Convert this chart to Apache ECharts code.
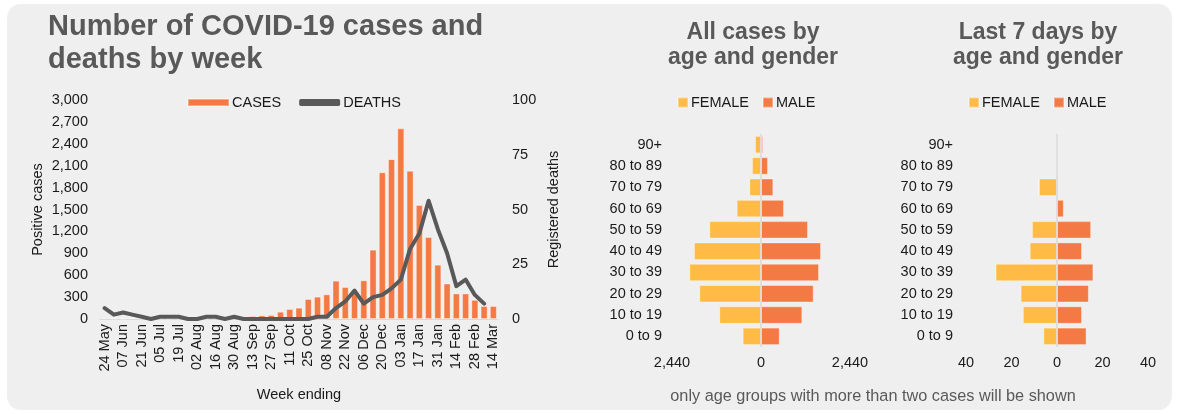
<!DOCTYPE html>
<html>
<head>
<meta charset="utf-8">
<title>COVID-19 cases and deaths</title>
<script src="https://cdn.jsdelivr.net/npm/echarts@6/dist/echarts.min.js"></script>
<style>
  html, body { margin: 0; padding: 0; background: #fff; }
  #panel { position: absolute; left: 7px; top: 4px; width: 1165px; height: 406px; background: #efefef; border-radius: 14px; }
  #main { position: absolute; left: 0; top: 0; width: 1179px; height: 414px; }
</style>
</head>
<body>
<div id="panel"></div>
<div id="main"></div>
<script>
// week ending labels
var weeks = ['24 May', '31 May', '07 Jun', '14 Jun', '21 Jun', '28 Jun', '05 Jul', '12 Jul', '19 Jul', '26 Jul',
  '02 Aug', '09 Aug', '16 Aug', '23 Aug', '30 Aug', '06 Sep', '13 Sep', '20 Sep', '27 Sep', '04 Oct',
  '11 Oct', '18 Oct', '25 Oct', '01 Nov', '08 Nov', '15 Nov', '22 Nov', '29 Nov', '06 Dec', '13 Dec',
  '20 Dec', '27 Dec', '03 Jan', '10 Jan', '17 Jan', '24 Jan', '31 Jan', '07 Feb', '14 Feb', '21 Feb',
  '28 Feb', '07 Mar', '14 Mar'];

var cases = [15, 5, 5, 10, 3, 2, 2, 3, 4, 3,
  3, 4, 5, 8, 15, 25, 41, 50, 55, 100,
  137, 155, 274, 306, 338, 525, 438, 370, 530, 950,
  2010, 2190, 2612, 2032, 1562, 1123, 744, 486, 350, 350,
  262, 178, 178];

var deaths = [5, 2, 3, 2, 1, 0, 1, 1, 1, 0,
  0, 1, 1, 0, 1, 0, 0, 0, 0, 0,
  0, 0, 0, 1, 1, 5, 8, 13, 7, 10,
  11, 14, 18, 32, 39, 54, 41, 30, 15, 18,
  11, 7, null];

var ages = ['0 to 9', '10 to 19', '20 to 29', '30 to 39', '40 to 49', '50 to 59', '60 to 69', '70 to 79', '80 to 89', '90+'];

// all cases
var allFemale = [503, 1143, 1691, 1965, 1837, 1417, 667, 320, 247, 165];
var allMale = [512, 1133, 1444, 1590, 1645, 1289, 631, 338, 192, 55];

// last 7 days
var weekFemale = [6, 15, 16, 27, 12, 11, 0, 8, 0, 0];
var weekMale = [13, 11, 14, 16, 11, 15, 3, 0, 0, 0];

var orange = '#f47a45';
var yellow = '#ffbb45';
var grey = '#595959';
var ink = '#1a1a1a';
var font = 'Liberation Sans, Arial, sans-serif';
var fs = 14.5;

function neg(arr) {
  return arr.map(function (v) { return -v; });
}

function absLabel(v) {
  return Math.abs(v).toLocaleString('en-US');
}

var myChart = echarts.init(document.getElementById('main'));

var option = {
  textStyle: { fontFamily: font },
  animation: false,
  title: [
    {
      text: 'Number of COVID-19 cases and\ndeaths by week',
      left: 43, top: 5,
      textStyle: { fontSize: 29, fontWeight: 'bold', color: grey, lineHeight: 33, fontFamily: font }
    },
    {
      text: 'All cases by\nage and gender',
      left: 748, top: 15, textAlign: 'center',
      textStyle: { fontSize: 23, fontWeight: 'bold', color: grey, lineHeight: 25, fontFamily: font }
    },
    {
      text: 'Last 7 days by\nage and gender',
      left: 1033, top: 15, textAlign: 'center',
      textStyle: { fontSize: 23, fontWeight: 'bold', color: grey, lineHeight: 25, fontFamily: font }
    },
    {
      text: 'only age groups with more than two cases will be shown',
      left: 868, top: 384, textAlign: 'center',
      textStyle: { fontSize: 16.3, fontWeight: 'normal', color: grey, fontFamily: font }
    }
  ],
  legend: [
    {
      left: 182, top: 90,
      itemWidth: 41, itemHeight: 7, itemGap: 18,
      textStyle: { fontSize: fs, color: ink, padding: [0, 0, 0, -2] },
      data: [{ name: 'CASES', icon: 'rect' }, { name: 'DEATHS', icon: 'roundRect' }]
    },
    {
      left: 672, top: 90,
      itemWidth: 10, itemHeight: 10, itemGap: 13,
      textStyle: { fontSize: fs, color: ink, padding: [0, 0, 0, -2] },
      data: [{ name: 'FEMALE', icon: 'rect' }, { name: 'MALE', icon: 'rect' }]
    },
    {
      left: 963, top: 90,
      itemWidth: 10, itemHeight: 10, itemGap: 13,
      textStyle: { fontSize: fs, color: ink, padding: [0, 0, 0, -2] },
      data: [{ name: 'FEMALE', icon: 'rect' }, { name: 'MALE', icon: 'rect' }]
    }
  ],
  grid: [
    { left: 100, top: 100, width: 398, height: 219 },
    { left: 672, top: 134, width: 178, height: 213 },
    { left: 966, top: 134, width: 182, height: 213 }
  ],
  xAxis: [
    {
      type: 'category', gridIndex: 0, data: weeks,
      name: 'Week ending', nameLocation: 'middle', nameGap: 68,
      nameTextStyle: { fontSize: fs, color: ink },
      axisLine: { lineStyle: { color: '#d9d9d9' } },
      axisTick: { show: false },
      axisLabel: { interval: 1, rotate: 90, fontSize: fs, color: ink, margin: 5 }
    },
    {
      type: 'value', gridIndex: 1, min: -2440, max: 2440, interval: 2440,
      splitLine: { show: false }, axisLine: { show: false }, axisTick: { show: false },
      axisLabel: { fontSize: fs, color: ink, margin: 8, formatter: absLabel }
    },
    {
      type: 'value', gridIndex: 2, min: -40, max: 40, interval: 20,
      splitLine: { show: false }, axisLine: { show: false }, axisTick: { show: false },
      axisLabel: { fontSize: fs, color: ink, margin: 8, formatter: absLabel }
    }
  ],
  yAxis: [
    {
      type: 'value', gridIndex: 0, min: 0, max: 3000, interval: 300,
      name: 'Positive cases', nameLocation: 'middle', nameGap: 55,
      nameTextStyle: { fontSize: fs, color: ink },
      splitLine: { show: false }, axisLine: { show: false }, axisTick: { show: false },
      axisLabel: { fontSize: fs, color: ink, margin: 12, formatter: function (v) { return v.toLocaleString('en-US'); } }
    },
    {
      type: 'value', gridIndex: 0, min: 0, max: 100, interval: 25, position: 'right',
      name: 'Registered deaths', nameLocation: 'middle', nameGap: 48,
      nameTextStyle: { fontSize: fs, color: ink },
      splitLine: { show: false }, axisLine: { show: false }, axisTick: { show: false },
      axisLabel: { fontSize: fs, color: ink, margin: 14 }
    },
    {
      type: 'category', gridIndex: 1, data: ages,
      axisLine: { show: false }, axisTick: { show: false },
      axisLabel: { fontSize: fs, color: ink, margin: 10 }
    },
    {
      type: 'category', gridIndex: 2, data: ages,
      axisLine: { show: false }, axisTick: { show: false },
      axisLabel: { fontSize: fs, color: ink, margin: 13 }
    }
  ],
  series: [
    {
      name: 'CASES', type: 'bar', xAxisIndex: 0, yAxisIndex: 0,
      data: cases, barCategoryGap: '24%',
      itemStyle: { color: orange, borderColor: 'rgba(255,255,255,0.35)', borderWidth: 1 }
    },
    {
      name: 'DEATHS', type: 'line', xAxisIndex: 0, yAxisIndex: 1,
      data: deaths, showSymbol: false, symbol: 'none',
      itemStyle: { color: grey },
      lineStyle: { color: grey, width: 4, join: 'round', cap: 'round' }
    },
    {
      name: 'FEMALE', type: 'bar', xAxisIndex: 1, yAxisIndex: 2, stack: 'all',
      data: neg(allFemale), barCategoryGap: '18%',
      itemStyle: { color: yellow, borderColor: 'rgba(255,255,255,0.35)', borderWidth: 1 },
      markLine: {
        silent: true, symbol: 'none', label: { show: false },
        lineStyle: { color: '#d9d9d9', type: 'solid', width: 1.5 },
        data: [{ xAxis: 0 }]
      }
    },
    {
      name: 'MALE', type: 'bar', xAxisIndex: 1, yAxisIndex: 2, stack: 'all',
      data: allMale, barCategoryGap: '18%',
      itemStyle: { color: orange, borderColor: 'rgba(255,255,255,0.35)', borderWidth: 1 }
    },
    {
      name: 'FEMALE', type: 'bar', xAxisIndex: 2, yAxisIndex: 3, stack: 'week',
      data: neg(weekFemale), barCategoryGap: '18%',
      itemStyle: { color: yellow, borderColor: 'rgba(255,255,255,0.35)', borderWidth: 1 },
      markLine: {
        silent: true, symbol: 'none', label: { show: false },
        lineStyle: { color: '#d9d9d9', type: 'solid', width: 1.5 },
        data: [{ xAxis: 0 }]
      }
    },
    {
      name: 'MALE', type: 'bar', xAxisIndex: 2, yAxisIndex: 3, stack: 'week',
      data: weekMale, barCategoryGap: '18%',
      itemStyle: { color: orange, borderColor: 'rgba(255,255,255,0.35)', borderWidth: 1 }
    }
  ]
};

myChart.setOption(option);
</script>
</body>
</html>
